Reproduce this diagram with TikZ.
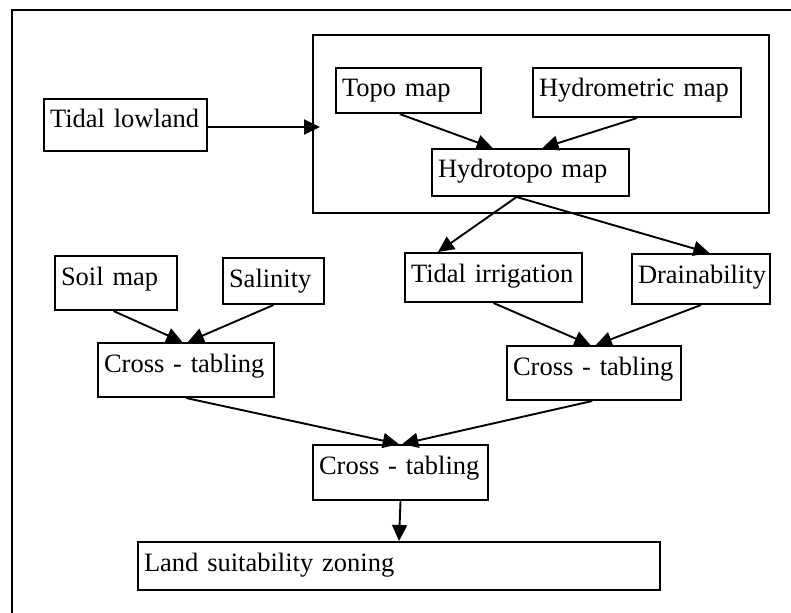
\documentclass[tikz,border=0pt]{standalone}
\usepackage{fontspec}
\setmainfont{Liberation Serif}
\usetikzlibrary{calc,arrows.meta}
\begin{document}
\begin{tikzpicture}[x=1pt,y=-1pt,
  bx/.style={draw, line width=2pt, anchor=north west, inner xsep=6pt, inner ysep=0pt,
    text height=29pt, align=left, font=\fontsize{26.5}{30}\selectfont},
  arr/.style={line width=1.9pt, -{Triangle[length=16pt,width=15pt]}}]
\useasboundingbox (0,0) rectangle (791,612);
\clip (0,0) rectangle (791,612);
% outer frame
\node[draw, line width=2pt, anchor=north west, minimum width=820pt, minimum height=640pt, inner sep=0pt] (frame) at (11,9) {};
% group of map inputs
\node[draw, line width=2pt, anchor=north west, minimum width=456pt, minimum height=178pt, inner sep=0pt] (grp) at (312,34) {};
% boxes
\node[bx, text width=151pt, text depth=23pt] (tl) at (43,98) {Tidal lowland};
\node[bx, text width=133pt, text depth=16pt] (topo) at (335,67) {Topo map};
\node[bx, text width=196pt, text depth=20pt] (hydrom) at (532,67) {Hydrometric map};
\node[bx, text width=185pt, text depth=18pt] (hydrotopo) at (431,148) {Hydrotopo map};
\node[bx, text width=110pt, text depth=25pt] (soil) at (54,255) {Soil map};
\node[bx, text width=89pt, text depth=17pt] (salin) at (222,257) {Salinity};
\node[bx, text width=164pt, text depth=25pt] (ctl) at (97,342) {Cross - tabling};
\node[bx, text width=165pt, text depth=20pt] (tirr) at (404,252) {Tidal irrigation};
\node[bx, text width=126pt, text depth=21pt] (drain) at (631,253) {Drainability};
\node[bx, text width=162pt, text depth=25pt] (ctr) at (506,345) {Cross - tabling};
\node[bx, text width=163pt, text depth=26pt] (ctb) at (312,444) {Cross - tabling};
\node[bx, text width=510pt, text depth=19pt] (land) at (137,541) {Land suitability zoning};
% connectors
\draw[arr, shorten >=-8pt] ($(tl.east)+(0,2)$) -- ($(tl.east -| grp.west)+(0,2)$);
\draw[arr] ($(topo.south west)!0.44!(topo.south east)$) -- ($(hydrotopo.north west)!0.31!(hydrotopo.north east)$);
\draw[arr] (hydrom.south) -- ($(hydrotopo.north west)!0.56!(hydrotopo.north east)$);
\draw[arr] ($(hydrotopo.south west)!0.43!(hydrotopo.south east)$) -- ($(tirr.north west)!0.19!(tirr.north east)$);
\draw[arr] ($(hydrotopo.south west)!0.43!(hydrotopo.south east)$) -- ($(drain.north west)!0.56!(drain.north east)$);
\draw[arr] ($(soil.south west)!0.48!(soil.south east)$) -- ($(ctl.north west)!0.48!(ctl.north east)$);
\draw[arr] (salin.south) -- ($(ctl.north west)!0.51!(ctl.north east)$);
\draw[arr] (tirr.south) -- ($(ctr.north west)!0.48!(ctr.north east)$);
\draw[arr] (drain.south) -- ($(ctr.north west)!0.51!(ctr.north east)$);
\draw[arr] (ctl.south) -- ($(ctb.north west)!0.49!(ctb.north east)$);
\draw[arr] ($(ctr.south west)!0.49!(ctr.south east)$) -- ($(ctb.north west)!0.51!(ctb.north east)$);
\draw[arr] (ctb.south) -- ($(land.north west)!0.5!(land.north east)$);
\end{tikzpicture}
\end{document}
